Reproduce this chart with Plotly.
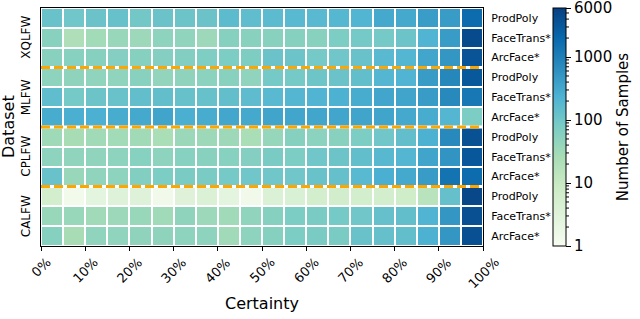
import numpy as np
import plotly.graph_objects as go

# ---------------- data ----------------
datasets = ["XQLFW", "MLFW", "CPLFW", "CALFW"]
methods = ["ProdPoly", "FaceTrans*", "ArcFace*"]
pct_labels = ["0%", "10%", "20%", "30%", "40%", "50%", "60%", "70%", "80%", "90%", "100%"]

xqlfw_prodpoly = [120, 100, 115, 125, 95, 115, 110, 115, 160, 150, 165, 180, 180, 190, 210, 300, 300, 430, 440, 1800]
xqlfw_facetrans = [55, 22, 30, 38, 35, 50, 45, 35, 60, 55, 55, 60, 55, 75, 90, 90, 110, 220, 440, 4500]
xqlfw_arcface = [55, 58, 60, 62, 60, 62, 65, 70, 75, 72, 115, 110, 90, 100, 120, 180, 200, 330, 520, 3500]
mlfw_prodpoly = [50, 48, 47, 45, 55, 43, 48, 52, 55, 47, 90, 90, 105, 115, 140, 200, 220, 440, 800, 3000]
mlfw_facetrans = [150, 90, 110, 120, 140, 140, 125, 125, 140, 155, 180, 200, 220, 240, 280, 330, 350, 440, 750, 1250]
mlfw_arcface = [280, 260, 250, 280, 300, 350, 260, 280, 320, 300, 350, 330, 330, 330, 350, 350, 300, 280, 200, 75]
cplfw_prodpoly = [33, 27, 31, 30, 31, 25, 36, 34, 34, 25, 40, 60, 52, 55, 75, 100, 140, 240, 750, 3800]
cplfw_facetrans = [50, 45, 46, 50, 58, 50, 58, 55, 58, 62, 80, 75, 100, 110, 140, 185, 200, 350, 550, 3200]
cplfw_arcface = [120, 38, 45, 50, 65, 75, 80, 80, 90, 100, 100, 100, 120, 130, 180, 260, 300, 440, 1400, 1800]
calfw_prodpoly = [6, 1.3, 2.4, 3.4, 3.4, 1.4, 3.2, 3.8, 2.4, 1.4, 3.8, 4.5, 6, 6.5, 6, 6, 7, 16, 130, 5000]
calfw_facetrans = [38, 38, 32, 35, 38, 32, 48, 35, 32, 45, 60, 75, 80, 90, 100, 130, 140, 220, 520, 3900]
calfw_arcface = [60, 27, 45, 45, 48, 48, 50, 50, 32, 50, 60, 75, 80, 80, 120, 130, 140, 240, 520, 3900]

rows = [xqlfw_prodpoly, xqlfw_facetrans, xqlfw_arcface,
        mlfw_prodpoly, mlfw_facetrans, mlfw_arcface,
        cplfw_prodpoly, cplfw_facetrans, cplfw_arcface,
        calfw_prodpoly, calfw_facetrans, calfw_arcface]

cbar_ticks = [1, 10, 100, 1000, 6000]
vmin, vmax = 1, 6000

# ---------------- figure ----------------
FONT = "DejaVu Sans"
gnbu = [[0.0, "#f7fcf0"], [0.125, "#e0f3db"], [0.25, "#ccebc5"], [0.375, "#a8ddb5"],
        [0.5, "#7bccc4"], [0.625, "#4eb3d3"], [0.75, "#2b8cbe"], [0.875, "#0868ac"],
        [1.0, "#084081"]]

n_cols = len(rows[0])
n_rows = len(rows)
z = np.log10(np.array(rows, dtype=float))
xc = np.arange(n_cols) + 0.5
yc = np.arange(n_rows)

W, H = 640, 319
L, R, T, B = 41, 157, 8, 73
pw = W - L - R
ph = H - T - B

cb_left_px = 553
cb_thick = 13
cb_x = (cb_left_px - L) / pw

zmin = float(np.log10(vmin))
zmax = float(np.log10(vmax))
# keep the end ticks a hair inside the range so plotly does not drop them
cb_tickvals = [min(max(float(np.log10(t)), zmin + 1e-6), zmax - 1e-6) for t in cbar_ticks]

fig = go.Figure()
fig.add_trace(go.Heatmap(
    x=xc, y=yc, z=z, colorscale=gnbu,
    zmin=zmin, zmax=zmax,
    xgap=2, ygap=2,
    hoverinfo="skip",
    colorbar=dict(
        x=cb_x, xanchor="left", xpad=0, ypad=0,
        y=0, yanchor="bottom", len=1, lenmode="fraction",
        thickness=cb_thick, thicknessmode="pixels",
        outlinewidth=1, outlinecolor="black",
        tickmode="array",
        tickvals=cb_tickvals, ticktext=[str(t) for t in cbar_ticks],
        ticklabeloverflow="allow",
        ticks="outside", ticklen=5, tickwidth=1, tickcolor="black",
        tickfont=dict(family=FONT, size=15, color="black"),
        title=dict(text="Number of Samples", side="right",
                   font=dict(family=FONT, size=15, color="black")),
    ),
))

shapes = []
# group separators
for g in range(1, len(datasets)):
    yy = g * len(methods) - 0.5
    shapes.append(dict(type="line", xref="x", yref="y", x0=0, x1=n_cols, y0=yy, y1=yy,
                       line=dict(color="white", width=3)))
    shapes.append(dict(type="line", xref="x", yref="y", x0=0, x1=n_cols, y0=yy, y1=yy,
                       line=dict(color="#ffa500", width=3, dash="9px,4px")))

# minor ticks on log colorbar
cb_right = cb_x + cb_thick / pw
lmax = np.log10(vmax)
for dec in [1, 10, 100, 1000]:
    for m in range(2, 10):
        v = dec * m
        if v >= vmax or v in cbar_ticks:
            continue
        yy = np.log10(v) / lmax
        shapes.append(dict(type="line", xref="paper", yref="paper",
                           x0=cb_right, x1=cb_right + 3 / pw, y0=yy, y1=yy,
                           line=dict(color="black", width=1)))

annotations = []
# rotated percentage labels centered under ticks
for i, lab in enumerate(pct_labels):
    annotations.append(dict(x=2 * i, y=0, xref="x", yref="paper", text=lab,
                            showarrow=False, textangle=-45, xanchor="center", yanchor="top",
                            yshift=-6, font=dict(family=FONT, size=13, color="black")))
# dataset labels
for g, name in enumerate(datasets):
    yy = 1 - (g * 3 + 1.5) / n_rows
    annotations.append(dict(x=-15 / pw, y=yy, xref="paper", yref="paper", text=name,
                            showarrow=False, textangle=-90, xanchor="center", yanchor="middle",
                            font=dict(family=FONT, size=12, color="black")))
annotations.append(dict(x=-33 / pw, y=0.5, xref="paper", yref="paper", text="Dataset",
                        showarrow=False, textangle=-90, xanchor="center", yanchor="middle",
                        font=dict(family=FONT, size=16, color="black")))
annotations.append(dict(x=0.5, y=-(303 - (T + ph)) / ph, xref="paper", yref="paper",
                        text="Certainty", showarrow=False, xanchor="center", yanchor="middle",
                        font=dict(family=FONT, size=16, color="black")))

fig.update_layout(
    width=W, height=H,
    margin=dict(l=L, r=R, t=T, b=B, pad=0, autoexpand=False),
    paper_bgcolor="white", plot_bgcolor="white",
    shapes=shapes, annotations=annotations,
    xaxis=dict(range=[0, n_cols], tickvals=list(range(0, n_cols + 1, 2)),
               showticklabels=False, ticks="outside", ticklen=4, tickcolor="black",
               showgrid=False, zeroline=False, showline=True, linecolor="black",
               linewidth=1, mirror=True),
    yaxis=dict(range=[n_rows - 0.5, -0.5], tickvals=list(yc),
               ticktext=methods * len(datasets), side="right",
               ticks="", ticklabelstandoff=5,
               tickfont=dict(family=FONT, size=11, color="black"),
               showgrid=False, zeroline=False, showline=True, linecolor="black",
               linewidth=1, mirror=True),
    font=dict(family=FONT, color="black"),
)

fig.write_html("out.html", config={"displayModeBar": False},
               post_script="document.body.style.margin='0';document.body.style.overflow='hidden';")
